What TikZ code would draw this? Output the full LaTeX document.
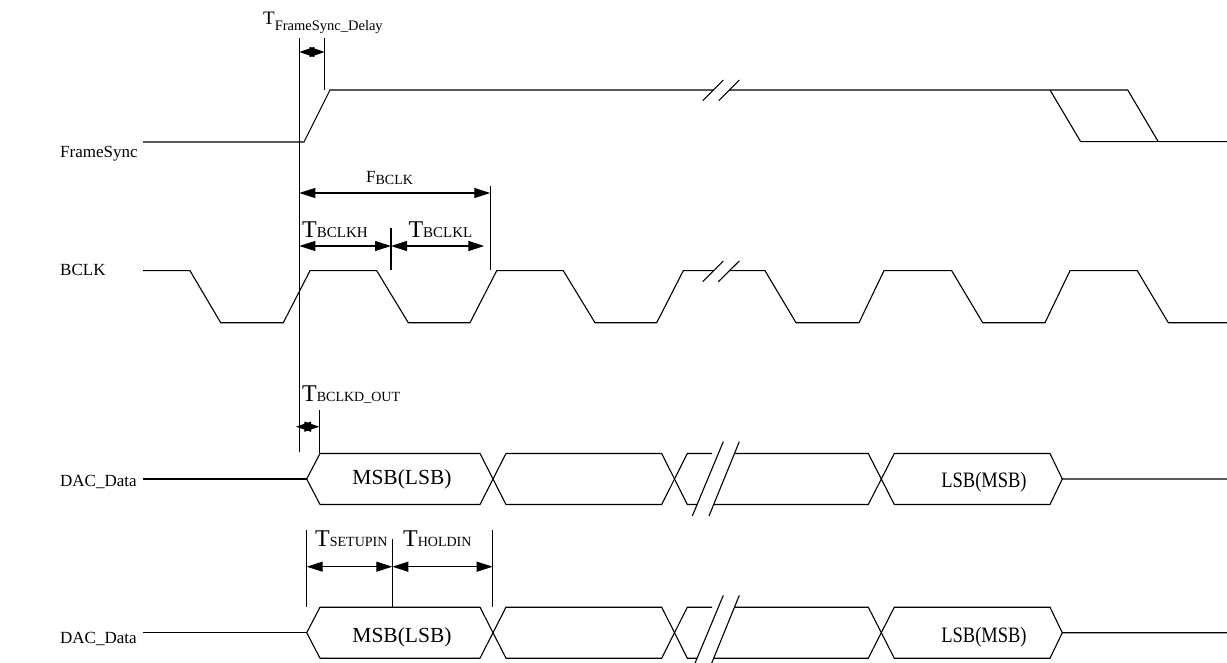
\documentclass[tikz,border=0pt]{standalone}
\usepackage{fontspec}
\setmainfont{Liberation Serif}
\usetikzlibrary{arrows.meta}
\newcommand{\fsz}[1]{\fontsize{#1}{#1}\selectfont}
\begin{document}
\begin{tikzpicture}[x=1pt,y=-1pt,
  sig/.style={line width=1.1pt},
  dimarrow/.style={line width=1.1pt,{Triangle[length=16pt,width=10pt]}-{Triangle[length=16pt,width=10pt]}},
  sdimarrow/.style={line width=1.1pt,{Triangle[length=15pt,width=10pt]}-{Triangle[length=15pt,width=10pt]}},
  siglabel/.style={anchor=base west,inner sep=0pt,font=\fsz{17}},
  dimlabel/.style={anchor=base west,inner sep=0pt},
  buslabel/.style={anchor=base,inner sep=0pt}]
\useasboundingbox (0,0) rectangle (1227,663);

% signal names
\node[siglabel] (lfs) at (60,158) {FrameSync};
\node[siglabel] (lbclk) at (60,276) {BCLK};
\node[siglabel] (ldac1) at (60,486) {DAC\_Data};
\node[siglabel] (ldac2) at (60,643) {DAC\_Data};

% FrameSync
\draw[sig] (143,142) -- (304,142) -- (330,90) -- (713.3,90);
\draw[sig] (729.3,90) -- (1127.7,90) -- (1158.3,141.7);
\draw[sig] (1050,90) -- (1080.7,141.7) -- (1227,141.7);
\draw[sig] (702.7,100.7) -- (723.3,80);
\draw[sig] (718.7,100.7) -- (739.3,80);

% BCLK
\draw[sig] (143,270.7) -- (190,270.7) -- (220.7,322.7) -- (283.3,322.7) -- (310,270.7)
  -- (376.7,270.7) -- (408.3,322.7) -- (470,322.7) -- (496.7,270.7) -- (563.3,270.7)
  -- (595,322.7) -- (656.7,322.7) -- (683.3,270.7) -- (713.6,270.7);
\draw[sig] (729.3,270.7) -- (765,270.7) -- (796,322.7) -- (859,322.7) -- (884,270.7)
  -- (951.7,270.7) -- (982.7,322.7) -- (1045,322.7) -- (1070,270.7) -- (1137.3,270.7)
  -- (1168.3,322.7) -- (1227,322.7);
\draw[sig] (702.7,281.7) -- (723.3,261);
\draw[sig] (718.3,281.7) -- (739.3,261);

% DAC_Data (1) and DAC_Data (2)
\foreach \dy in {0,153.7}{
  \begin{scope}[yshift=-\dy pt]
  \draw[sig] (143,479) -- (306.7,479);
  \draw[sig] (306.7,479) -- (320,453.5) -- (480,453.5) -- (506,504.5) -- (661.7,504.5) -- (687.3,453.5) -- (712,453.5);
  \draw[sig] (306.7,479) -- (320,504.5) -- (480,504.5) -- (506,453.5) -- (661.7,453.5) -- (687.3,504.5) -- (697.1,504.5);
  \draw[sig] (734.5,453.5) -- (868.3,453.5) -- (894.3,504.5) -- (1050,504.5) -- (1062.3,479) -- (1227,479);
  \draw[sig] (713.7,504.5) -- (868.3,504.5) -- (894.3,453.5) -- (1050,453.5) -- (1062.3,479);
  \draw[sig] (692.3,516) -- (723.3,441.7);
  \draw[sig] (709,516) -- (739.3,441.7);
  \end{scope}
}
\node[buslabel] (msb1) at (402,484.5) {\fsz{21.5}MSB(LSB)};
\node[buslabel] (lsb1) at (984,487) {\scalebox{0.84}[1]{\fsz{22}LSB(MSB)}};
\node[buslabel] (msb2) at (402,642.5) {\fsz{21.5}MSB(LSB)};
\node[buslabel] (lsb2) at (984,642) {\scalebox{0.84}[1]{\fsz{22}LSB(MSB)}};

% reference lines
\coordinate (v0t) at (299.3,38);  \coordinate (v0b) at (299.3,452);
\coordinate (v1t) at (324.7,38);  \coordinate (v1b) at (324.7,90);
\coordinate (v2t) at (490.3,186); \coordinate (v2b) at (490.3,270);
\coordinate (v3t) at (391,228);   \coordinate (v3b) at (391,270);
\coordinate (v4t) at (319.3,410); \coordinate (v4b) at (319.3,453);
\coordinate (v5t) at (306.7,530); \coordinate (v5b) at (306.7,607);
\coordinate (v6t) at (392.3,539); \coordinate (v6b) at (392.3,607);
\coordinate (v7t) at (492.7,530); \coordinate (v7b) at (492.7,607);
\foreach \v in {0,...,7}{\draw[sig] (v\v t) -- (v\v b);}

% dimension arrows
\coordinate (a1l) at (299.3,52);   \coordinate (a1r) at (324.7,52);
\coordinate (a2l) at (299.3,193);  \coordinate (a2r) at (490.3,193);
\coordinate (a3l) at (299.3,246);  \coordinate (a3m) at (391,246);  \coordinate (a3r) at (484.3,246);
\coordinate (a4l) at (296,426.7);  \coordinate (a4r) at (319.3,426.7);
\coordinate (a5l) at (306.7,566.7);\coordinate (a5m) at (392.3,566.7);\coordinate (a5r) at (492.7,566.7);
\draw[sdimarrow] (a1l) -- (a1r);
\draw[dimarrow] (a2l) -- (a2r);
\draw[dimarrow] (a3l) -- (a3m);
\draw[dimarrow] (a3m) -- (a3r);
\draw[sdimarrow] (a4l) -- (a4r);
\draw[dimarrow] (a5l) -- (a5m);
\draw[dimarrow] (a5m) -- (a5r);

% dimension labels
\node[dimlabel] (tfsd) at (263,25) {\fsz{19}T\raisebox{-5.7pt}{\fsz{14.5}FrameSync\_Delay}};
\node[dimlabel] (fbclk) at (366,182.7) {\fsz{17}F\raisebox{-2.3pt}{\fsz{14}BCLK}};
\node[dimlabel] (tbclkh) at (302,237.3) {\fsz{24}T{\fsz{15}BCLKH}};
\node[dimlabel] (tbclkl) at (408.3,237.3) {\fsz{24}T{\fsz{15}BCLKL}};
\node[dimlabel] (tbclkd) at (302,401.7) {\fsz{24}T{\fsz{14}BCLKD\_OUT}};
\node[dimlabel] (tsetup) at (315,546) {\fsz{24}T{\fsz{14}SETUPIN}};
\node[dimlabel] (thold) at (403,546) {\fsz{24}T{\fsz{14}HOLDIN}};
\end{tikzpicture}
\end{document}
